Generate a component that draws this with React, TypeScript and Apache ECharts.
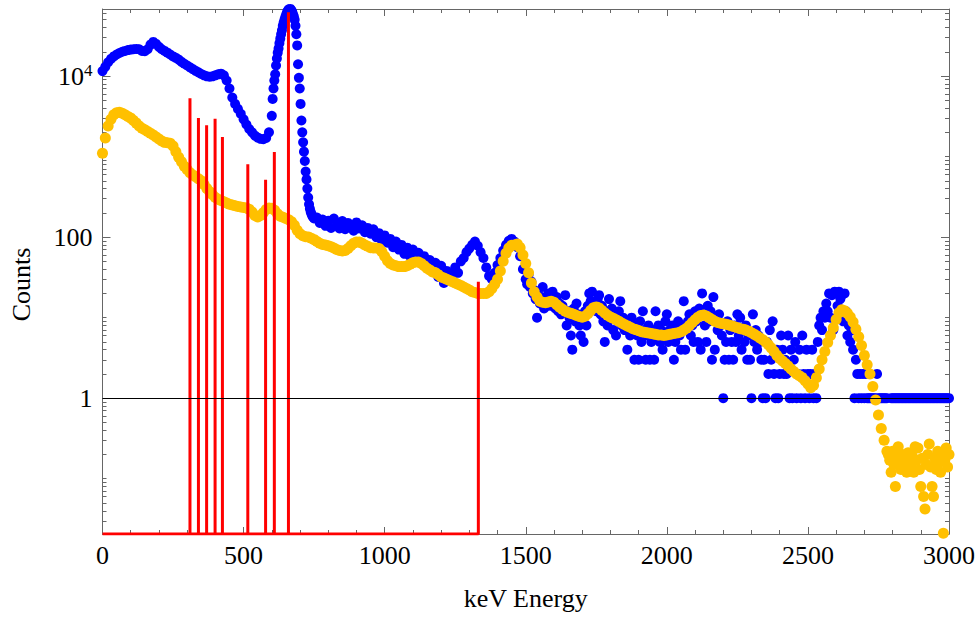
import React, { useEffect, useRef } from "react";
import * as echarts from "echarts";

// ---- axis ranges (data units) ----
const ENERGY_MIN = 0;
const ENERGY_MAX = 3000;
const ENERGY_TICK = 500;
const COUNT_MIN = 0.0206;
const COUNT_MAX = 67900;
const COUNT_LABELS = [1, 100, 10000];

// ---- yellow spectrum: 0..2780 keV every 10 keV ----
const yellowStart = 0;
const yellowStep = 10;
const yellowCounts = [
  1100, 1700, 2400, 2900, 3300, 3500, 3550, 3450, 3300, 3150,
  3000, 2800, 2600, 2400, 2250, 2150, 2050, 1950, 1850, 1750,
  1650, 1560, 1500, 1480, 1460, 1350, 1150, 980, 860, 760,
  690, 630, 590, 560, 530, 500, 450, 400, 365, 335,
  310, 295, 285, 275, 265, 255, 250, 245, 240, 237,
  233, 230, 222, 205, 185, 178, 185, 200, 220, 230,
  228, 215, 195, 182, 176, 170, 164, 155, 140, 122,
  110, 104, 101, 100, 97, 93, 88, 84, 81, 80,
  78, 76, 73, 70, 68, 67, 68, 72, 78, 84,
  87, 87, 84, 80, 77, 74, 73, 73, 72, 66,
  58, 51, 47, 45, 44, 43, 43, 43, 44, 46,
  48, 49, 49, 47, 44, 41, 39, 37, 36, 34,
  32, 31, 30, 29, 28, 27, 26, 25, 24, 23,
  22, 21, 20.5, 20, 20, 20, 20, 21, 23, 26,
  30, 38, 50, 63, 73, 79, 80, 82, 74, 60,
  47, 36, 27, 21, 18, 16, 15.5, 15.3, 15.6, 16,
  15.5, 14.5, 13.5, 12.7, 12, 11.6, 11.3, 11, 10.6, 10.3,
  10.1, 10.4, 11.2, 12.3, 13.3, 13.6, 13.2, 12.3, 11.4, 10.7,
  10.2, 9.8, 9.4, 9.0, 8.6, 8.2, 7.9, 7.6, 7.3, 7.1,
  6.9, 6.7, 6.6, 6.5, 6.4, 6.3, 6.2, 6.1, 6.1, 6.0,
  6.1, 6.2, 6.3, 6.4, 6.5, 6.7, 7.0, 7.4, 8.0, 8.7,
  9.4, 10.1, 10.6, 10.8, 10.5, 10.0, 9.5, 9.0, 8.7, 8.5,
  8.4, 8.3, 8.1, 7.9, 7.7, 7.5, 7.3, 7.2, 7.0, 6.8,
  6.5, 6.2, 5.9, 5.6, 5.3, 5.0, 4.6, 4.2, 3.8, 3.4,
  3.1, 2.9, 2.7, 2.5, 2.3, 2.15, 2.0, 1.9, 1.8, 1.65,
  1.5, 1.35, 1.45, 1.8, 2.3, 3.0, 3.8, 4.9, 6.0, 7.5,
  9.5, 11.5, 12.5, 12.2, 11.3, 10.2, 8.8, 7.2, 5.8, 4.5,
  3.4, 2.6, 2.0, 1.4, 0.95, 0.62, 0.42, 0.3, 0.22,
];

// ---- yellow noisy tail: 2785..3000 keV every 5 keV ----
const yellowTailStart = 2785;
const yellowTailStep = 5;
const yellowTailCounts = [
  0.2, 0.17, 0.12, 0.22, 0.15, 0.08, 0.19, 0.25, 0.16, 0.13,
  0.2, 0.15, 0.17, 0.12, 0.21, 0.16, 0.14, 0.19, 0.12, 0.25,
  0.17, 0.24, 0.13, 0.08, 0.18, 0.06, 0.042, 0.15, 0.2, 0.27,
  0.14, 0.08, 0.06, 0.18, 0.13, 0.22, 0.16, 0.12, 0.2, 0.021,
  0.17, 0.24, 0.14, 0.2,
];

// ---- blue spectrum (raw counts) ----
const blueLowStart = 0;
const blueLowStep = 10;
const blueLowCounts = [
  11500, 13000, 14800, 16300, 17500, 18500, 19300, 20000, 20500, 21000,
  21300, 21500, 21700, 21500, 20500, 20300, 21500, 24500, 26500, 25000,
  23000, 21500, 20500, 19500, 18500, 17500, 16800, 16000, 15000, 14200,
  13500, 12800, 12200, 11600, 11100, 10600, 10200, 9900, 9800, 9900,
  10200, 10500, 10700, 10200, 8800, 7000, 5400, 4500, 3900, 3400,
  2900, 2500, 2200, 2000, 1820, 1720, 1660, 1640, 1700, 2000,
];

const bluePeakStart = 600;
const bluePeakStep = 3;
const bluePeakCounts = [
  3200, 5200, 7000, 8800, 10500, 13500, 16500, 19500, 22000, 25500,
  29000, 33000, 37000, 42000, 46000, 50000, 54000, 58000, 62000, 65000,
  67500, 68500, 68000, 66000, 63000, 59000, 55000, 50000, 42000, 33000,
  24000, 14000, 9500, 7000, 4500, 2800, 2000, 1500, 1150, 880,
  650, 520, 400, 310, 255, 225, 205, 192, 182, 176,
  170,
];

const blueMidStart = 760;
const blueMidStep = 10;
const blueMidCounts = [
  175, 150, 165, 138, 160, 130, 170, 140, 128, 158,
  125, 150, 138, 120, 152, 128, 140, 115, 130, 110,
  125, 100, 112, 90, 105, 85, 95, 75, 88, 70,
  80, 62, 74, 58, 70, 52, 64, 48, 58, 42,
  52, 38, 48, 32, 44, 27, 38, 30, 34, 42,
  36, 50, 55, 65, 72, 80, 88, 78, 65, 55,
  42, 33, 30, 36, 45, 55, 68, 80, 90, 95,
  88, 75, 58, 40,
];

const blueHighStart = 1500;
const blueHighStep = 5;
const blueHighCounts = [
  30, 26, 34, 24, 28, 20, 22, 17, 10, 19, 15, 18, 24, 13, 16, 14,
  20, 17, 14, 21, 16, 13, 18, 12, 15, 11, 14, 12, 19, 8, 12, 10,
  6, 4, 13, 9, 15, 11, 8, 6, 10, 5, 12, 8, 14, 20, 16, 21,
  13, 15, 12, 17, 19, 11, 14, 9, 5, 12, 8, 17, 10, 13, 7, 11,
  6, 9, 12, 16, 8, 10, 7, 9, 4, 8, 6, 10, 7, 3, 8, 6,
  3, 9, 5, 12, 7, 3, 6, 8, 3, 5, 7, 3, 12, 6, 8, 5,
  7, 4, 6, 9, 11, 5, 7, 6, 8, 3, 5, 7, 9, 6, 4, 8,
  16, 4, 7, 9, 11, 6, 8, 5, 12, 9, 5, 13, 4, 20, 11, 8,
  5, 14, 9, 12, 3, 18, 4, 10, 7, 11, 8, 6, 1, 3, 5, 9,
  3, 7, 5, 3, 8, 5, 11, 6, 10, 4, 7, 5, 8, 3, 6, 3,
  1, 11, 5, 7, 4, 6, 5, 3, 1, 3, 1, 5, 2, 7, 3, 9,
  2, 1, 4, 1, 2, 6, 4, 2, 3, 2, 6, 1, 4, 1, 3, 5,
  1, 2, 4, 1, 6, 2, 1, 4, 2, 1, 2, 4, 1, 2, 1, 5,
  8, 10, 7, 12, 10, 15, 12, 20, 10, 19, 7, 21, 20, 14, 21, 17,
  19, 9, 20, 12, 6, 8, 5, 7, 4, 1, 3, 2, 1, 2, 1, 2,
  1, 2, 1, 1, 1, 1, 1, 1, 1, 2, 1, 1, 1, 1, 1, 1,
  1, 0, 0, 1, 1, 1, 1, 1, 1, 1, 1, 1, 1, 1, 1, 1,
  1, 1, 1, 1, 1, 1, 1, 1, 1, 1, 1, 1, 1, 1, 1, 1,
  1, 1, 1, 1, 1, 1, 1, 1, 1, 1, 1, 1,
  1,
];

// ---- red reference lines ----
const lineEnergies = [310, 340, 369, 399, 425, 515, 578, 609, 659, 1332];
const lineCounts = [5300, 3000, 2450, 2950, 1750, 800, 515, 1140, 62000, 28];

const SERIF = "Liberation Serif, DejaVu Serif, serif";
const FRAME = "#666666";
const FONT_SIZE = 26;

const lg = (v: number) => Math.log10(v);
const Y_MIN = lg(COUNT_MIN);
const Y_MAX = lg(COUNT_MAX);

function stepped(start: number, step: number, values: number[]) {
  const out: number[][] = [];
  values.forEach((v, i) => {
    if (v > 0) out.push([start + i * step, lg(v)]);
  });
  return out;
}

function minorLogs() {
  const out: number[] = [];
  for (let n = -3; n <= 5; n++) {
    for (let k = 1; k <= 9; k++) {
      const v = n + lg(k);
      if (v > Y_MIN && v < Y_MAX && !COUNT_LABELS.some((c) => Math.abs(lg(c) - v) < 1e-9)) out.push(v);
    }
  }
  return out;
}

export default function App() {
  const ref = useRef<HTMLDivElement>(null);

  useEffect(() => {
    if (!ref.current) return;
    const chart = echarts.init(ref.current, null, { renderer: "svg" });

    const yellow = [
      ...stepped(yellowStart, yellowStep, yellowCounts),
      ...stepped(yellowTailStart, yellowTailStep, yellowTailCounts),
    ];
    const blue = [
      ...stepped(blueLowStart, blueLowStep, blueLowCounts),
      ...stepped(bluePeakStart, bluePeakStep, bluePeakCounts),
      ...stepped(blueMidStart, blueMidStep, blueMidCounts),
      ...stepped(blueHighStart, blueHighStep, blueHighCounts),
    ];
    const red: number[][] = [[ENERGY_MIN, Y_MIN]];
    lineEnergies.forEach((e, i) => {
      red.push([e, Y_MIN], [e, lg(lineCounts[i])], [e, Y_MIN]);
    });

    const majorLogs = COUNT_LABELS.map(lg);
    const minors = minorLogs();

    const xCommon = {
      type: "value",
      min: ENERGY_MIN,
      max: ENERGY_MAX,
      interval: ENERGY_TICK,
      splitLine: { show: false },
      axisLine: { show: true, onZero: false, lineStyle: { color: FRAME, width: 1 } },
      axisTick: { show: true, inside: true, length: 7, lineStyle: { color: FRAME } },
      minorTick: { show: true, splitNumber: 5, length: 4, lineStyle: { color: FRAME } },
    };

    const yMajor = {
      type: "value",
      min: Y_MIN,
      max: Y_MAX,
      splitLine: { show: false },
      axisLine: { show: true, onZero: false, lineStyle: { color: FRAME, width: 1 } },
      axisTick: { show: true, inside: true, length: 8, customValues: majorLogs, lineStyle: { color: FRAME } },
    };
    const yMinor = {
      type: "value",
      gridIndex: 1,
      min: Y_MIN,
      max: Y_MAX,
      splitLine: { show: false },
      axisLine: { show: false },
      axisLabel: { show: false },
      axisTick: { show: true, inside: true, length: 4, customValues: minors, lineStyle: { color: FRAME } },
    };

    const gridBox = { left: 102.5, right: 31, top: 9, bottom: 84, outerBoundsMode: "none", containLabel: false };

    chart.setOption({
      animation: false,
      backgroundColor: "#ffffff",
      grid: [gridBox, gridBox],
      xAxis: [
        {
          ...xCommon,
          gridIndex: 0,
          position: "bottom",
          axisLabel: {
            show: true,
            fontFamily: SERIF,
            fontSize: FONT_SIZE,
            color: "#000",
            margin: 8,
            formatter: (v: number) => String(Math.round(v)),
          },
          name: "keV Energy",
          nameLocation: "middle",
          nameGap: 51,
          nameTextStyle: { fontFamily: SERIF, fontSize: FONT_SIZE, color: "#000" },
        },
        { ...xCommon, gridIndex: 0, position: "top", axisLabel: { show: false } },
        { type: "value", gridIndex: 1, min: ENERGY_MIN, max: ENERGY_MAX, show: false },
      ],
      yAxis: [
        {
          ...yMajor,
          gridIndex: 0,
          position: "left",
          axisLabel: {
            show: true,
            customValues: majorLogs,
            fontFamily: SERIF,
            fontSize: FONT_SIZE,
            color: "#000",
            margin: 10,
            formatter: (v: number) => {
              const c = Math.round(Math.pow(10, v));
              if (c === 10000) return "{b|10}{s|4}";
              return String(c);
            },
            rich: {
              b: { fontFamily: SERIF, fontSize: FONT_SIZE, color: "#000" },
              s: { fontFamily: SERIF, fontSize: 17, color: "#000", verticalAlign: "top", padding: [0, 0, 12, 0] },
            },
          },
          name: "Counts",
          nameLocation: "middle",
          nameGap: 68,
          nameTextStyle: { fontFamily: SERIF, fontSize: FONT_SIZE, color: "#000", padding: [0, 26, 0, 0] },
        },
        { ...yMajor, gridIndex: 0, position: "right", axisLabel: { show: false } },
        { ...yMinor, position: "left" },
        { ...yMinor, position: "right" },
      ],
      series: [
        {
          name: "raw",
          type: "scatter",
          xAxisIndex: 0,
          yAxisIndex: 0,
          data: blue,
          symbol: "circle",
          symbolSize: 10,
          itemStyle: { color: "#0000ff", opacity: 1 },
          z: 2,
          silent: true,
        },
        {
          name: "smoothed",
          type: "scatter",
          xAxisIndex: 0,
          yAxisIndex: 0,
          data: yellow,
          symbol: "circle",
          symbolSize: 11,
          itemStyle: { color: "#ffc000", opacity: 1 },
          z: 3,
          silent: true,
          markLine: {
            silent: true,
            symbol: "none",
            label: { show: false },
            lineStyle: { color: "#000", width: 1, type: "solid", opacity: 1 },
            data: [{ yAxis: 0 }],
          },
        },
        {
          name: "lines",
          type: "line",
          xAxisIndex: 0,
          yAxisIndex: 0,
          data: red,
          symbol: "none",
          showSymbol: false,
          lineStyle: { color: "#ff0000", width: 3 },
          z: 4,
          silent: true,
        },
      ],
    });

    return () => chart.dispose();
  }, []);

  return (
    <div
      ref={ref}
      style={{ position: "fixed", left: 0, top: 0, width: 980, height: 618, background: "#fff" }}
    />
  );
}
